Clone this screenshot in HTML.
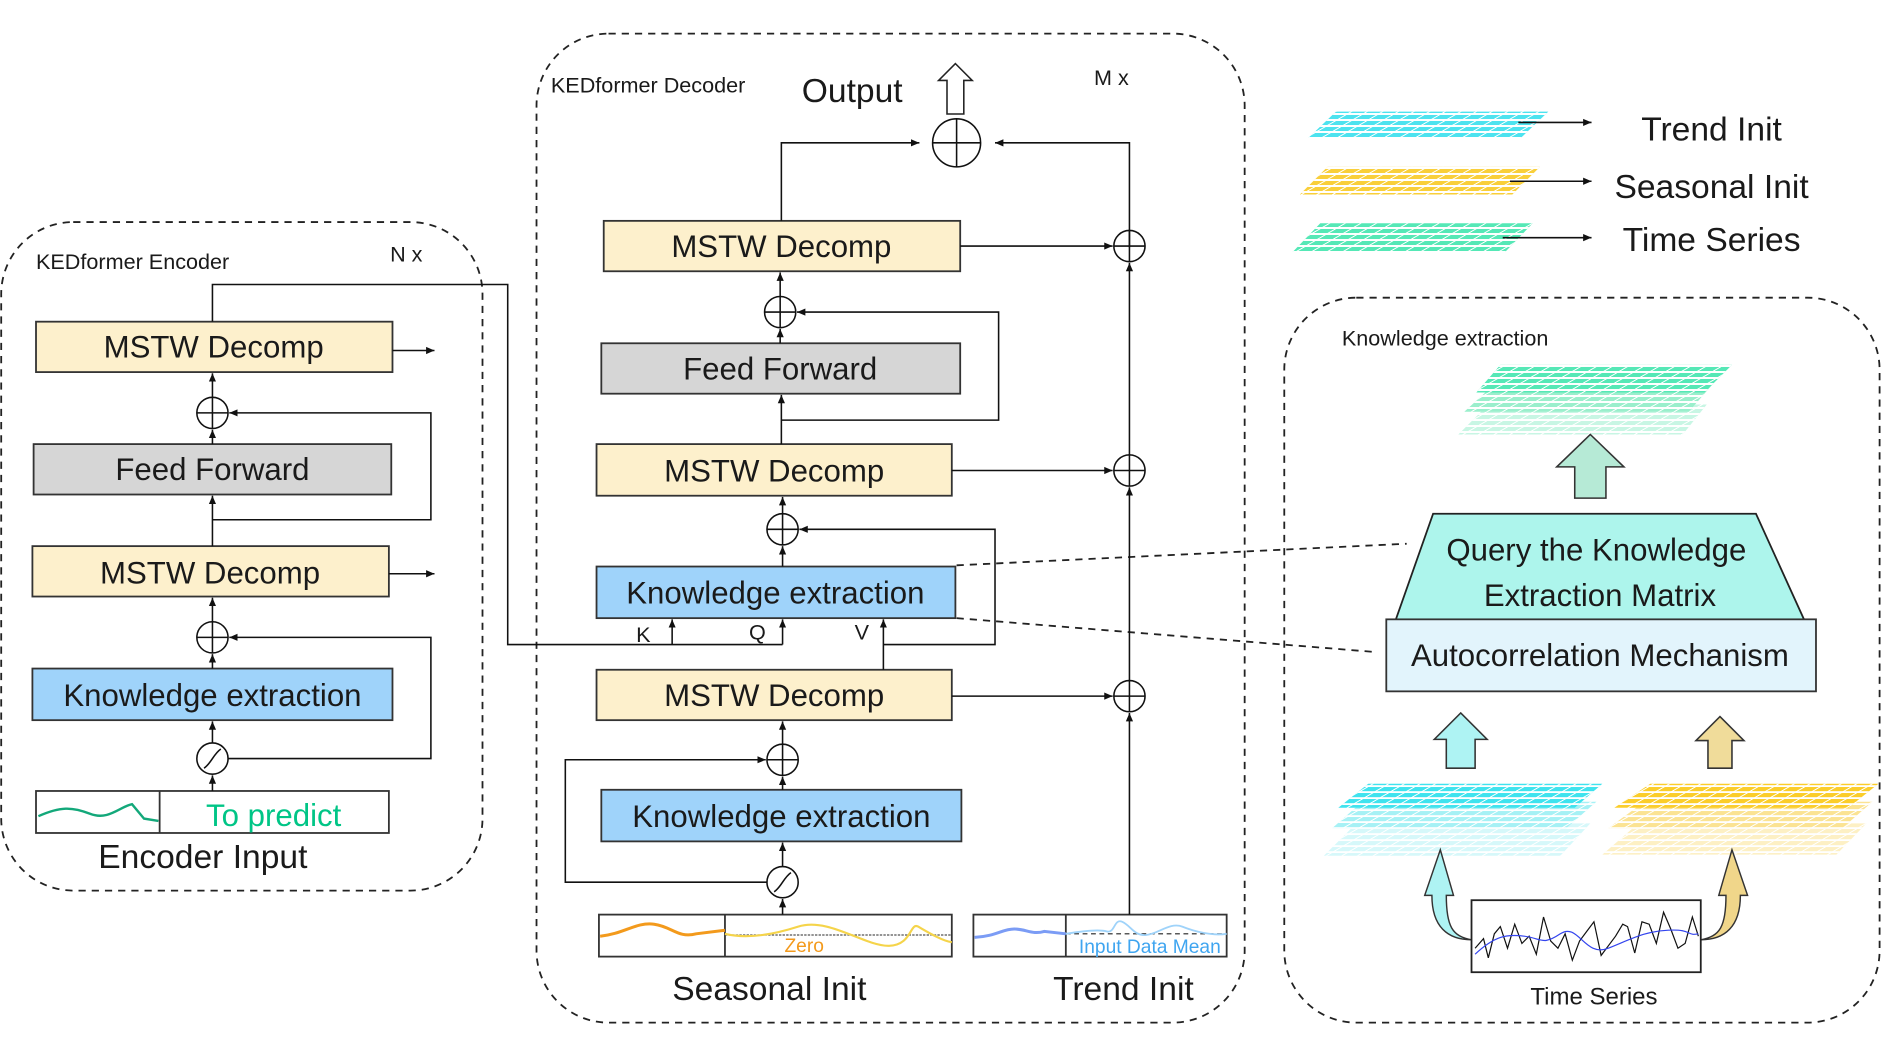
<!DOCTYPE html>
<html><head><meta charset="utf-8"><style>
html,body{margin:0;padding:0;background:#fff}
svg{display:block}
text{font-family:"Liberation Sans",sans-serif;fill:#1a1a1a}
</style></head><body>
<svg width="1882" height="1059" viewBox="0 0 1568 882.3" xmlns="http://www.w3.org/2000/svg">
<defs>
<marker id="ah" markerWidth="8" markerHeight="8" refX="7" refY="4" orient="auto" markerUnits="userSpaceOnUse"><path d="M0,1 L7,4 L0,7 z" fill="#111"/></marker>
<pattern id="gp" width="13" height="5" patternUnits="userSpaceOnUse" patternTransform="skewX(-60)"><rect width="13" height="5" fill="none" stroke="#fff" stroke-width="1.6"/></pattern>
</defs>
<g fill="none" stroke="#222" stroke-width="1.5" stroke-dasharray="6,5">
<rect x="1" y="185" width="401" height="557" rx="60"/>
<rect x="447" y="28" width="590" height="824" rx="60"/>
<rect x="1070" y="248" width="496" height="604" rx="60"/>
<line x1="797" y1="471" x2="1172" y2="453"/>
<line x1="797" y1="515" x2="1143" y2="543"/>
</g>

<!-- Encoder -->
<text x="30" y="224" font-size="18">KEDformer Encoder</text>
<text x="325" y="218" font-size="18">N x</text>
<g stroke="#333" stroke-width="1.5">
<rect x="30" y="268" width="297" height="42" fill="#fdf0cc"/>
<rect x="28" y="370" width="298" height="42" fill="#d6d6d6"/>
<rect x="27" y="455" width="297" height="42" fill="#fdf0cc"/>
<rect x="27" y="557" width="300" height="43" fill="#9fd3fa"/>
<rect x="30" y="659" width="294" height="35" fill="#fff"/>
<line x1="133" y1="659" x2="133" y2="694"/>
</g>
<g font-size="26" text-anchor="middle">
<text x="178" y="298">MSTW Decomp</text>
<text x="177" y="400">Feed Forward</text>
<text x="175" y="486">MSTW Decomp</text>
<text x="177" y="588">Knowledge extraction</text>
</g>
<path d="M32,680 C50,672 60,672 75,678 S100,672 110,670 L120,682 L132,684" fill="none" stroke="#13a87a" stroke-width="2"/>
<text x="228" y="688" font-size="26" text-anchor="middle" style="fill:#00c586">To predict</text>
<text x="169" y="723" font-size="28" text-anchor="middle">Encoder Input</text>
<g stroke="#111" stroke-width="1.3" fill="none">
<line x1="177" y1="659" x2="177" y2="646" marker-end="url(#ah)"/>
<line x1="177" y1="619" x2="177" y2="601" marker-end="url(#ah)"/>
<line x1="177" y1="557" x2="177" y2="545" marker-end="url(#ah)"/>
<line x1="177" y1="518" x2="177" y2="498" marker-end="url(#ah)"/>
<line x1="177" y1="455" x2="177" y2="413" marker-end="url(#ah)"/>
<line x1="177" y1="370" x2="177" y2="358" marker-end="url(#ah)"/>
<line x1="177" y1="331" x2="177" y2="311" marker-end="url(#ah)"/>
<polyline points="190,632 359,632 359,531 191,531" marker-end="url(#ah)"/>
<polyline points="177,433 359,433 359,344 191,344" marker-end="url(#ah)"/>
<line x1="327" y1="292" x2="362" y2="292" marker-end="url(#ah)"/>
<line x1="324" y1="478" x2="362" y2="478" marker-end="url(#ah)"/>
<polyline points="177,268 177,237 423,237 423,537 652,537"/>
<line x1="560" y1="537" x2="560" y2="516" marker-end="url(#ah)"/>
<line x1="652" y1="537" x2="652" y2="516" marker-end="url(#ah)"/>
<circle cx="177" cy="344" r="13"/><line x1="164" y1="344" x2="190" y2="344"/><line x1="177" y1="331" x2="177" y2="357"/>
<circle cx="177" cy="531" r="13"/><line x1="164" y1="531" x2="190" y2="531"/><line x1="177" y1="518" x2="177" y2="544"/>
<circle cx="177" cy="632" r="13"/><path d="M170,640 C176,636 178,628 184,624"/>
</g>

<!-- Decoder -->
<text x="459" y="77" font-size="18">KEDformer Decoder</text>
<text x="710" y="85" font-size="28" text-anchor="middle">Output</text>
<text x="926" y="71" font-size="18" text-anchor="middle">M x</text>
<path d="M796,53 L810,67 L803,67 L803,95 L789,95 L789,67 L782,67 z" fill="#fff" stroke="#222" stroke-width="1.3"/>
<g stroke="#333" stroke-width="1.5">
<rect x="503" y="184" width="297" height="42" fill="#fdf0cc"/>
<rect x="501" y="286" width="299" height="42" fill="#d6d6d6"/>
<rect x="497" y="370" width="296" height="43" fill="#fdf0cc"/>
<rect x="497" y="472" width="299" height="43" fill="#9fd3fa"/>
<rect x="497" y="558" width="296" height="42" fill="#fdf0cc"/>
<rect x="501" y="658" width="300" height="43" fill="#9fd3fa"/>
<rect x="499" y="762" width="294" height="35" fill="#fff"/>
<line x1="604" y1="762" x2="604" y2="797"/>
<rect x="811" y="762" width="211" height="35" fill="#fff"/>
<line x1="888" y1="762" x2="888" y2="797"/>
</g>
<g font-size="26" text-anchor="middle">
<text x="651" y="214">MSTW Decomp</text>
<text x="650" y="316">Feed Forward</text>
<text x="645" y="401">MSTW Decomp</text>
<text x="646" y="503">Knowledge extraction</text>
<text x="645" y="588">MSTW Decomp</text>
<text x="651" y="689">Knowledge extraction</text>
</g>
<g font-size="18"><text x="530" y="535">K</text><text x="624" y="533">Q</text><text x="712" y="533">V</text></g>
<line x1="604" y1="779" x2="793" y2="779" stroke="#555" stroke-width="1" stroke-dasharray="2,1"/>
<path d="M500,780 C520,778 530,768 545,770 S565,782 580,778 L604,775" fill="none" stroke="#f39a1c" stroke-width="2.5"/>
<path d="M604,778 C620,782 640,780 665,772 S720,788 740,788 S758,768 765,772 S785,784 793,785" fill="none" stroke="#f5d44a" stroke-width="1.8"/>
<text x="670" y="793" font-size="16" text-anchor="middle" style="fill:#f39a1c">Zero</text>
<line x1="888" y1="778" x2="1022" y2="778" stroke="#222" stroke-width="1" stroke-dasharray="4,3"/>
<path d="M812,781 C830,780 835,774 845,774 S860,779 870,776 L888,778" fill="none" stroke="#7b9cf5" stroke-width="2.5"/>
<path d="M888,778 C900,776 915,774 922,776 S928,765 935,768 S945,780 955,779 S975,768 985,772 S1010,780 1022,778" fill="none" stroke="#9fd3fa" stroke-width="1.5"/>
<text x="958" y="794" font-size="16" text-anchor="middle" style="fill:#3fa5f0">Input Data Mean</text>
<text x="641" y="833" font-size="28" text-anchor="middle">Seasonal Init</text>
<text x="936" y="833" font-size="28" text-anchor="middle">Trend Init</text>
<g stroke="#111" stroke-width="1.3" fill="none">
<line x1="652" y1="762" x2="652" y2="749" marker-end="url(#ah)"/>
<line x1="652" y1="722" x2="652" y2="702" marker-end="url(#ah)"/>
<line x1="652" y1="658" x2="652" y2="647" marker-end="url(#ah)"/>
<line x1="652" y1="620" x2="652" y2="601" marker-end="url(#ah)"/>
<polyline points="639,735 471,735 471,633 638,633" marker-end="url(#ah)"/>
<polyline points="736,558 736,516" marker-end="url(#ah)"/>
<polyline points="736,537 829,537 829,441 666,441" marker-end="url(#ah)"/>
<line x1="652" y1="472" x2="652" y2="455" marker-end="url(#ah)"/>
<line x1="652" y1="428" x2="652" y2="414" marker-end="url(#ah)"/>
<line x1="651" y1="370" x2="651" y2="329" marker-end="url(#ah)"/>
<polyline points="651,350 832,350 832,260 664,260" marker-end="url(#ah)"/>
<line x1="650" y1="286" x2="650" y2="274" marker-end="url(#ah)"/>
<line x1="650" y1="247" x2="650" y2="227" marker-end="url(#ah)"/>
<polyline points="651,184 651,119 766,119" marker-end="url(#ah)"/>
<polyline points="941,206 941,119 829,119" marker-end="url(#ah)"/>
<line x1="941" y1="762" x2="941" y2="594" marker-end="url(#ah)"/>
<line x1="941" y1="567" x2="941" y2="406" marker-end="url(#ah)"/>
<line x1="941" y1="379" x2="941" y2="219" marker-end="url(#ah)"/>
<line x1="800" y1="205" x2="927" y2="205" marker-end="url(#ah)"/>
<line x1="793" y1="392" x2="927" y2="392" marker-end="url(#ah)"/>
<line x1="793" y1="580" x2="927" y2="580" marker-end="url(#ah)"/>
<circle cx="797" cy="119" r="20"/><line x1="777" y1="119" x2="817" y2="119"/><line x1="797" y1="99" x2="797" y2="139"/>
<circle cx="650" cy="260" r="13"/><line x1="637" y1="260" x2="663" y2="260"/><line x1="650" y1="247" x2="650" y2="273"/>
<circle cx="652" cy="441" r="13"/><line x1="639" y1="441" x2="665" y2="441"/><line x1="652" y1="428" x2="652" y2="454"/>
<circle cx="652" cy="633" r="13"/><line x1="639" y1="633" x2="665" y2="633"/><line x1="652" y1="620" x2="652" y2="646"/>
<circle cx="652" cy="735" r="13"/><path d="M645,743 C651,739 653,731 659,727"/>
<circle cx="941" cy="205" r="13"/><line x1="928" y1="205" x2="954" y2="205"/><line x1="941" y1="192" x2="941" y2="218"/>
<circle cx="941" cy="392" r="13"/><line x1="928" y1="392" x2="954" y2="392"/><line x1="941" y1="379" x2="941" y2="405"/>
<circle cx="941" cy="580" r="13"/><line x1="928" y1="580" x2="954" y2="580"/><line x1="941" y1="567" x2="941" y2="593"/>
</g>

<!-- Legend -->
<g>
<polygon points="1113,93 1290,93 1267,115 1090,115" fill="#4de3ef"/><polygon points="1113,93 1290,93 1267,115 1090,115" fill="url(#gp)"/>
<polygon points="1106,139 1283,139 1260,162 1083,162" fill="#f9cf3a"/><polygon points="1106,139 1283,139 1260,162 1083,162" fill="url(#gp)"/>
<polygon points="1100,186 1277,186 1254,210 1077,210" fill="#55e8b6"/><polygon points="1100,186 1277,186 1254,210 1077,210" fill="url(#gp)"/>
</g>
<g stroke="#111" stroke-width="1.3">
<line x1="1265" y1="102" x2="1326" y2="102" marker-end="url(#ah)"/>
<line x1="1258" y1="151" x2="1326" y2="151" marker-end="url(#ah)"/>
<line x1="1252" y1="198" x2="1326" y2="198" marker-end="url(#ah)"/>
</g>
<g font-size="28" text-anchor="middle">
<text x="1426" y="117">Trend Init</text>
<text x="1426" y="165">Seasonal Init</text>
<text x="1426" y="209">Time Series</text>
</g>

<!-- Knowledge extraction panel -->
<text x="1118" y="288" font-size="18">Knowledge extraction</text>
<g>
<polygon points="1240,337 1422,337 1402,362 1215,362" fill="#c8f6e4"/><polygon points="1240,337 1422,337 1402,362 1215,362" fill="url(#gp)"/>
<polygon points="1245,320 1427,320 1407,343 1220,343" fill="#9aefcc"/><polygon points="1245,320 1427,320 1407,343 1220,343" fill="url(#gp)"/>
<polygon points="1250,304 1443,304 1420,327 1230,327" fill="#55e8b6"/><polygon points="1250,304 1443,304 1420,327 1230,327" fill="url(#gp)"/>
</g>
<path d="M1325,362 L1353,389 L1338,389 L1338,415 L1312,415 L1312,389 L1297,389 z" fill="#b6ead6" stroke="#333" stroke-width="1.3"/>
<polygon points="1194,428 1463,428 1503,516 1163,516" fill="#adf5ec" stroke="#222" stroke-width="1.5"/>
<rect x="1155" y="516" width="358" height="60" fill="#e2f4fc" stroke="#333" stroke-width="1.5"/>
<g font-size="26" text-anchor="middle">
<text x="1330" y="467">Query the Knowledge</text>
<text x="1333" y="505">Extraction Matrix</text>
<text x="1333" y="555">Autocorrelation Mechanism</text>
</g>
<path d="M1217,594 L1239,616 L1229,616 L1229,640 L1205,640 L1205,616 L1195,616 z" fill="#aef3f3" stroke="#333" stroke-width="1.3"/>
<path d="M1433,597 L1453,617 L1443,617 L1443,640 L1423,640 L1423,617 L1413,617 z" fill="#f0dc9a" stroke="#333" stroke-width="1.3"/>
<g>
<polygon points="1130,686 1325,686 1300,713 1103,713" fill="#d6f8fa"/><polygon points="1130,686 1325,686 1300,713 1103,713" fill="url(#gp)"/>
<polygon points="1135,668 1330,668 1305,690 1110,690" fill="#a6f1f5"/><polygon points="1135,668 1330,668 1305,690 1110,690" fill="url(#gp)"/>
<polygon points="1140,653 1335,653 1312,673 1115,673" fill="#3fe3ee"/><polygon points="1140,653 1335,653 1312,673 1115,673" fill="url(#gp)"/>
<polygon points="1365,686 1555,686 1530,712 1335,712" fill="#fdf0c4"/><polygon points="1365,686 1555,686 1530,712 1335,712" fill="url(#gp)"/>
<polygon points="1370,668 1560,668 1535,690 1340,690" fill="#fbe393"/><polygon points="1370,668 1560,668 1535,690 1340,690" fill="url(#gp)"/>
<polygon points="1375,653 1565,653 1540,673 1345,673" fill="#fbcd2a"/><polygon points="1375,653 1565,653 1540,673 1345,673" fill="url(#gp)"/>
</g>
<path d="M1226,783 C1210,780 1205,772 1205,746 L1211,746 L1200,708 L1187,746 L1193,746 C1193,772 1206,783 1226,783 z" fill="#aef3f3" stroke="#333" stroke-width="1.2"/>
<path d="M1417,783 C1433,780 1438,772 1438,746 L1432,746 L1443,708 L1456,746 L1450,746 C1450,772 1437,783 1417,783 z" fill="#f0d68a" stroke="#333" stroke-width="1.2"/>
<rect x="1226" y="750" width="191" height="60" fill="#fff" stroke="#222" stroke-width="1.5"/>
<path d="M1229,790 L1236,782 L1240,798 L1245,778 L1250,772 L1256,790 L1262,770 L1268,786 L1274,780 L1280,795 L1286,764 L1292,784 L1298,790 L1304,778 L1310,800 L1316,784 L1322,776 L1328,768 L1334,796 L1340,788 L1346,780 L1352,770 L1356,772 L1362,794 L1368,768 L1374,770 L1380,786 L1386,760 L1392,774 L1398,790 L1404,786 L1410,764 L1415,780" fill="none" stroke="#111" stroke-width="1"/>
<path d="M1229,795 C1245,780 1255,778 1270,780 S1285,788 1300,778 S1320,798 1340,790 S1370,776 1390,775 S1405,780 1415,778" fill="none" stroke="#3344ee" stroke-width="1"/>
<text x="1328" y="837" font-size="20" text-anchor="middle">Time Series</text>
</svg>
</body></html>
